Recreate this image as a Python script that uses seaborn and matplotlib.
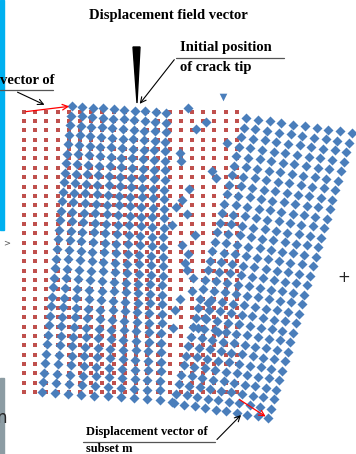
import numpy as np
import pandas as pd
import matplotlib
matplotlib.use('Agg')
import matplotlib.pyplot as plt
import seaborn as sns

# reference grid of subsets (red), pixel positions
red_x = [24, 35, 46, 58, 69, 80, 91, 102, 114, 125, 136, 147, 158, 170, 181, 192, 203, 214, 226, 237]
red_y = [112, 121, 130, 140, 149, 158, 168, 177, 187, 196, 205, 215, 224, 233, 243, 252,
         261, 271, 280, 289, 299, 308, 317, 327, 336, 345, 355, 364, 373, 383, 392]

# deformed subsets (blue): corners of the two blocks TL, TR, BL, BR
left_block_x = [72, 166, 42, 160]
left_block_y = [106, 113, 392, 400]
right_block_x = [246, 352, 174, 268]
right_block_y = [118, 133, 403, 418]
block_cols = 10
block_rows = 31

# scattered subsets along the crack faces
crack_x = [188, 206, 196, 227, 180, 181, 212, 216, 189, 182, 176, 187, 172, 195, 182, 188,
           185, 187, 193, 192, 180, 208, 175, 205, 173, 198, 218, 172]
crack_y = [108, 122, 129, 143, 153, 161, 171, 178, 189, 200, 207, 214, 225, 235, 245, 254,
           263, 270, 278, 291, 299, 303, 310, 318, 328, 328, 332, 402]


def block_points(bx, by):
    # each subset sits between the four corner subsets of its block
    pts = []
    for r in range(block_rows):
        v = r / (block_rows - 1)
        for c in range(block_cols):
            u = c / (block_cols - 1)
            x = (1-u)*(1-v)*bx[0] + u*(1-v)*bx[1] + (1-u)*v*bx[2] + u*v*bx[3]
            y = (1-u)*(1-v)*by[0] + u*(1-v)*by[1] + (1-u)*v*by[2] + u*v*by[3]
            pts.append((x, y))
    return pts


gx, gy = np.meshgrid(red_x, red_y)
red_df = pd.DataFrame({'x': gx.ravel(), 'y': gy.ravel()})

blue = block_points(left_block_x, left_block_y) + block_points(right_block_x, right_block_y)
blue += list(zip(crack_x, crack_y))
blue_df = pd.DataFrame(blue, columns=['x', 'y'])

sns.set_style('white')
plt.rcParams['font.family'] = ['Liberation Serif', 'DejaVu Serif']

fig = plt.figure(figsize=(3.56, 4.54), dpi=100)
ax = fig.add_axes([0, 0, 1, 1])
ax.set_xlim(0, 356)
ax.set_ylim(454, 0)
ax.axis('off')

red_c = '#c0504d'
blue_c = '#4a7ebb'

sns.scatterplot(data=red_df, x='x', y='y', marker='s', s=7, color=red_c, linewidth=0, ax=ax, zorder=2)
sns.scatterplot(data=blue_df, x='x', y='y', marker='D', s=26, color=blue_c, linewidth=0, ax=ax, zorder=3)

# initial crack tip wedge and the extra marker above
ax.fill([133, 140, 137], [47, 47, 103], color='black', zorder=4)
ax.scatter([223], [97], marker='v', s=30, color=blue_c, linewidth=0, zorder=4)

# side decorations cut by the frame
ax.fill([0, 4, 4, 0], [0, 0, 230, 230], color='#00b0f0', zorder=1)
ax.fill([0, 4, 4, 0], [378, 378, 454, 454], color='#8c9ca3', zorder=1)
ax.text(7, 243, '>', fontsize=6, color='#555555', family='DejaVu Sans', ha='center', va='center')
ax.text(344, 278, '+', fontsize=11, family='DejaVu Sans', ha='center', va='center')

bold = dict(fontweight='bold', color='black')
ax.text(168, 16, 'Displacement field vector', fontsize=10.5, ha='center', va='center', **bold)

ax.text(180, 47, 'Initial position', fontsize=10.5, ha='left', va='center', **bold)
ax.text(180, 68, 'of crack tip', fontsize=10.5, ha='left', va='center', **bold)
ax.plot([176, 284], [57.5, 57.5], color='#555555', lw=0.9)
ax.annotate('', xy=(138, 106), xytext=(176, 57.5),
            arrowprops=dict(arrowstyle='->', color='black', lw=0.8))

ax.text(0, 80, 'vector of', fontsize=10.5, ha='left', va='center', **bold)
ax.plot([0, 53], [89.5, 89.5], color='#555555', lw=0.9)
ax.annotate('', xy=(47, 106), xytext=(15, 91),
            arrowprops=dict(arrowstyle='->', color='black', lw=0.8))
ax.annotate('', xy=(72, 106), xytext=(23, 112),
            arrowprops=dict(arrowstyle='->', color='red', lw=0.9))

ax.text(86, 432, 'Displacement vector of', fontsize=9, ha='left', va='center', **bold)
ax.text(86, 449, 'subset m', fontsize=9, ha='left', va='center', **bold)
ax.plot([83, 215], [441.5, 441.5], color='#555555', lw=0.9)
ax.annotate('', xy=(243, 413), xytext=(215, 441.5),
            arrowprops=dict(arrowstyle='->', color='black', lw=0.8))
ax.annotate('', xy=(268, 418), xytext=(237, 398),
            arrowprops=dict(arrowstyle='->', color='red', lw=0.9))

ax.text(-3, 418, 'n', fontsize=12, family='DejaVu Sans', ha='left', va='center')

fig.savefig('out.png', dpi=100)
